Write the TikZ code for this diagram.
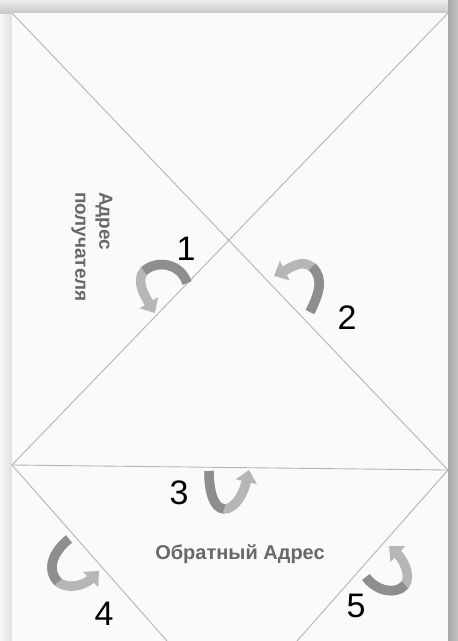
\documentclass[tikz,border=0pt]{standalone}
\usepackage{fontspec}
\setmainfont{Liberation Sans}
\usetikzlibrary{arrows.meta,calc}
\definecolor{foldline}{HTML}{B4B4B4}
\definecolor{paper}{HTML}{FAFAFA}
\definecolor{labelgray}{HTML}{686868}
\definecolor{arrdark}{HTML}{8E8E8E}
\definecolor{arrlight}{HTML}{B6B6B6}
\tikzset{
  fold/.style={draw=foldline, line width=0.9pt},
  num/.style={inner sep=0pt, font=\fontsize{34}{38}\selectfont, text=black},
  lbl/.style={inner sep=0pt, font=\fontsize{19}{24}\selectfont\bfseries, text=labelgray},
  arrfull/.style={draw=arrlight, line width=9.5pt, -{Triangle[length=12pt,width=21pt]}},
  arrtail/.style={draw=arrdark, line width=9.5pt},
}
\begin{document}
\begin{tikzpicture}[x=1pt,y=-1pt]
\useasboundingbox (0,0) rectangle (458,641);
\clip (0,0) rectangle (458,641);
% background and shadows
\fill[white!93!black] (0,0) rectangle (458,641);
\shade[left color=white!97!black, right color=white!88!black] (0,0) rectangle (12,641);
\shade[top color=white!93!black, bottom color=white!78!black] (0,0) rectangle (458,13);
\shade[left color=white!66!black, right color=white!76!black] (448,0) rectangle (458,641);
\fill[paper] (12,13) rectangle (448,641);
% folds
\coordinate (TL) at (12,13);
\coordinate (TR) at (448,13);
\coordinate (ML) at (12,465);
\coordinate (MR) at (448,470);
\coordinate (BL) at (167,641);
\coordinate (BR) at (297,641);
\draw[fold] (TL) -- (MR);
\draw[fold] (TR) -- (ML);
\draw[fold] (ML) -- (MR);
\draw[fold] (ML) -- ($(ML)!1.1!(BL)$);
\draw[fold] (MR) -- ($(MR)!1.1!(BR)$);
% arrows
% 1
\draw[arrfull] (187,283) .. controls (181,264) and (158,259) .. (144,271)
   .. controls (135,281) and (146,298) .. (155,313);
\draw[arrtail] (187,283) .. controls (181,264) and (158,259) .. (144,271);
% 2
\draw[arrfull] (310,312) .. controls (318,296) and (325,278) .. (312,267)
   .. controls (302,259) and (290,268) .. (274,276);
\draw[arrtail] (310,312) .. controls (318,296) and (325,278) .. (312,267);
% 3
\draw[arrfull] (209,471) .. controls (209,490) and (213,508) .. (224,509)
   .. controls (236,509) and (244,492) .. (249,470);
\draw[arrtail] (209,471) .. controls (209,490) and (213,508) .. (224,509);
% 4
\draw[arrfull] (69,539) .. controls (55,550) and (45,568) .. (58,582)
   .. controls (68,590) and (85,585) .. (99,571);
\draw[arrtail] (69,539) .. controls (55,550) and (45,568) .. (58,582);
% 5
\draw[arrfull] (366,577) .. controls (375,590) and (395,596) .. (405,585)
   .. controls (412,575) and (402,558) .. (389,546);
\draw[arrtail] (366,577) .. controls (375,590) and (395,596) .. (405,585);
% numbers
\node[num] (n1) at (186,249) {1};
\node[num] (n2) at (347,318) {2};
\node[num] (n3) at (179,493) {3};
\node[num] (n4) at (104,614) {4};
\node[num] (n5) at (356,606) {5};
% labels
\node[lbl, rotate=-90, align=left] (recip) at (92,247) {Адрес\\получателя};
\node[lbl, font=\fontsize{20}{24}\selectfont\bfseries] (ret) at (240,554) {Обратный Адрес};
\end{tikzpicture}
\end{document}
